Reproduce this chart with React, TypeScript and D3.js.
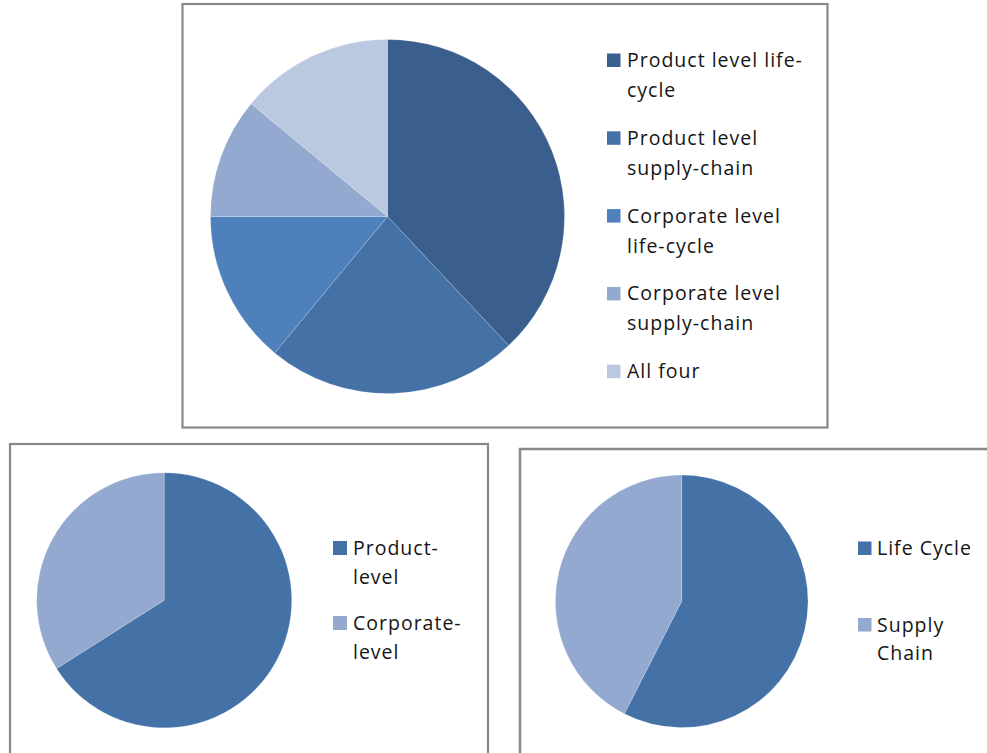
import React from "react";
import * as d3 from "d3";

// Top chart: all five reporting scopes
const scopeLabels = [
  ["Product level life-", "cycle"],
  ["Product level", "supply-chain"],
  ["Corporate level", "life-cycle"],
  ["Corporate level", "supply-chain"],
  ["All four"],
];
const scopeValues = [38, 23, 14, 11, 14];
const scopeColors = ["#3B5F8D", "#4471A6", "#4E80BC", "#94A9CF", "#BAC8E0"];

// Bottom-left chart: product vs corporate level
const levelLabels = [["Product-", "level"], ["Corporate-", "level"]];
const levelValues = [66, 34];
const levelColors = ["#4472A6", "#94A9CF"];

// Bottom-right chart: life cycle vs supply chain
const stageLabels = [["Life Cycle"], ["Supply", "Chain"]];
const stageValues = [57.5, 42.5];
const stageColors = ["#4472A6", "#94A9CF"];

const FONT = "'Open Sans', Lato, sans-serif";
const BORDER = "#898989";

type PieProps = {
  cx: number;
  cy: number;
  r: number;
  values: number[];
  colors: string[];
};

function Pie({ cx, cy, r, values, colors }: PieProps) {
  const pie = d3
    .pie<number>()
    .sort(null)
    .value((d) => d)
    .startAngle(0)
    .endAngle(2 * Math.PI);
  const arc = d3.arc<d3.PieArcDatum<number>>().innerRadius(0).outerRadius(r);
  const arcs = pie(values);
  return (
    <g transform={`translate(${cx},${cy})`}>
      {arcs.map((a, i) => (
        <path
          key={i}
          d={arc(a) || ""}
          fill={colors[i]}
          stroke="#ffffff"
          strokeOpacity={0.3}
          strokeWidth={0.6}
        />
      ))}
    </g>
  );
}

type LegendProps = {
  x: number;
  y: number;
  step: number;
  lineGap: number;
  size: number;
  labels: string[][];
  colors: string[];
  fontSize: number;
  textDx: number;
};

function Legend({ x, y, step, lineGap, size, labels, colors, fontSize, textDx }: LegendProps) {
  return (
    <g>
      {labels.map((lines, i) => {
        const base = y + i * step;
        return (
          <g key={i}>
            <rect x={x} y={base - size} width={size} height={size} fill={colors[i]} />
            <text
              x={x + textDx}
              y={base}
              fontFamily={FONT}
              fontSize={fontSize}
              letterSpacing={1}
              fill="#151515"
            >
              {lines.map((ln, j) => (
                <tspan key={j} x={x + textDx} y={base + j * lineGap}>
                  {ln}
                </tspan>
              ))}
            </text>
          </g>
        );
      })}
    </g>
  );
}

export default function App() {
  return (
    <svg
      width={987}
      height={753}
      viewBox="0 0 987 753"
      style={{ position: "absolute", left: 0, top: 0, background: "#fff" }}
    >
      {/* frames */}
      <rect x={182.5} y={4} width={645} height={423.5} fill="#fff" stroke={BORDER} strokeWidth={2.2} />
      <rect x={10} y={444} width={478} height={330} fill="#fff" stroke={BORDER} strokeWidth={2.2} />
      <rect x={520} y={449} width={480} height={330} fill="#fff" stroke={BORDER} strokeWidth={2.5} />

      {/* top chart */}
      <Pie cx={387.5} cy={216.5} r={177} values={scopeValues} colors={scopeColors} />
      <Legend
        x={607}
        y={67}
        step={77.8}
        lineGap={30}
        size={13.5}
        labels={scopeLabels}
        colors={scopeColors}
        fontSize={19.5}
        textDx={20}
      />

      {/* bottom-left chart */}
      <Pie cx={164.2} cy={600.3} r={127.5} values={levelValues} colors={levelColors} />
      <Legend
        x={333}
        y={555}
        step={75}
        lineGap={29}
        size={14}
        labels={levelLabels}
        colors={levelColors}
        fontSize={19.5}
        textDx={20}
      />

      {/* bottom-right chart */}
      <Pie cx={681.7} cy={601.3} r={126.3} values={stageValues} colors={stageColors} />
      <Legend
        x={858}
        y={555}
        step={76.5}
        lineGap={28.5}
        size={13.5}
        labels={stageLabels}
        colors={stageColors}
        fontSize={19.5}
        textDx={19}
      />
    </svg>
  );
}
